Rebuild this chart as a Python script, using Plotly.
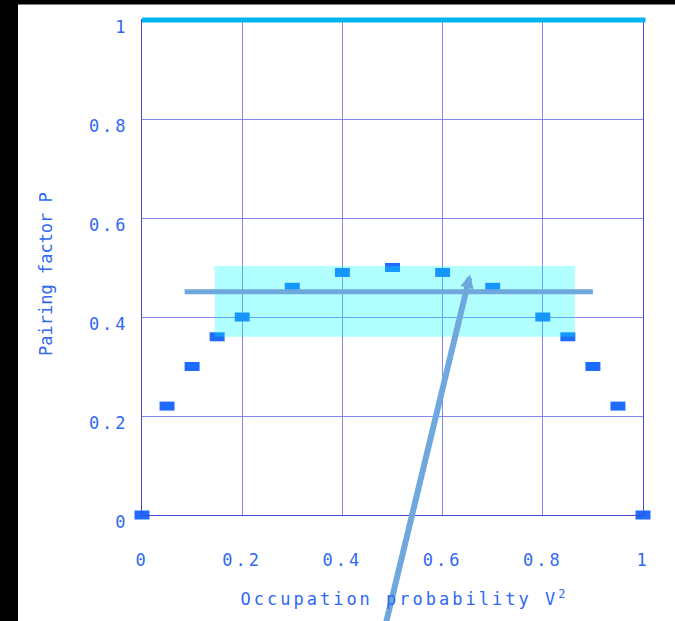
import plotly.graph_objects as go

# Occupation probability V^2 and the pairing factor P at each level
v2 = [0, 0.05, 0.1, 0.15, 0.2, 0.3, 0.4, 0.5, 0.6, 0.7, 0.8, 0.85, 0.9, 0.95, 1]
pairing = [0, 0.22, 0.30, 0.36, 0.40, 0.46, 0.49, 0.50, 0.49, 0.46, 0.40, 0.36, 0.30, 0.22, 0]

# Highlighted band and its mean level
band_x = [0.145, 0.864]
band_y = [0.36, 0.503]
mean_x = [0.085, 0.9]
mean_y = 0.451

# Upper limit line at P = 1 (axes span exactly 0..1, so paper units match data units)
limit_x = [0, 1.005]
limit_y = 1

# Pointer arrow: tail (below the axis) and head
arrow_tail = [0.477, -0.26]
arrow_head = [0.655, 0.486]

tick_vals = [0, 0.2, 0.4, 0.6, 0.8, 1]
tick_text = ["0", "0.2", "0.4", "0.6", "0.8", "1"]

x_title = "Occupation probability V<sup>2</sup>"
y_title = "Pairing factor P"

TEXT_BLUE = "#3068f2"
GRID = "#8585f0"
AXIS = "#4646d8"
FONT = "DejaVu Sans Mono"

fig = go.Figure()

# flat rectangular markers: a thick horizontal dash
fig.add_trace(go.Scatter(
    x=v2, y=pairing, mode="markers",
    marker=dict(symbol="line-ew", size=10.7, color="#1f6bff",
                line=dict(color="#1f6bff", width=9)),
    cliponaxis=False, showlegend=False, hoverinfo="skip",
))

shapes = [
    # white page behind the chart
    dict(type="rect", xref="paper", yref="paper", x0=-0.2475, x1=1.07,
         y0=-0.22, y1=1.0315, fillcolor="white", line_width=0, layer="below"),
    # translucent band
    dict(type="rect", xref="x", yref="y", x0=band_x[0], x1=band_x[1],
         y0=band_y[0], y1=band_y[1], fillcolor="rgba(0,255,255,0.3)",
         line_width=0, layer="above"),
    # mean level
    dict(type="line", xref="x", yref="y", x0=mean_x[0], x1=mean_x[1],
         y0=mean_y, y1=mean_y, line=dict(color="#6fa8dc", width=5), layer="above"),
    # limit at P = 1
    dict(type="line", xref="paper", yref="paper", x0=limit_x[0], x1=limit_x[1],
         y0=limit_y, y1=limit_y, line=dict(color="#00b6f2", width=5), layer="above"),
]

# annotation 0: pointer arrow
fig.add_annotation(
    x=arrow_head[0], y=arrow_head[1], ax=arrow_tail[0], ay=arrow_tail[1],
    xref="x", yref="y", axref="x", ayref="y", text="",
    showarrow=True, arrowhead=2, arrowsize=0.45, arrowwidth=6,
    arrowcolor="#6fa8dc",
)

# annotation 1: x-axis title, centred under the tick labels
fig.add_annotation(
    x=0.523, y=-0.168, xref="paper", yref="paper", xanchor="center", yanchor="middle",
    text=x_title, showarrow=False,
    font=dict(family=FONT, size=17, color=TEXT_BLUE),
)

# annotation 2: y-axis title, rotated, left of the tick labels
fig.add_annotation(
    x=-0.1916, y=0.487, xref="paper", yref="paper", xanchor="center", yanchor="middle",
    text=y_title, showarrow=False, textangle=-90,
    font=dict(family=FONT, size=17, color=TEXT_BLUE),
)

axis_common = dict(
    range=[0, 1], tickvals=tick_vals, ticktext=tick_text,
    showgrid=True, gridcolor=GRID, gridwidth=1,
    showline=True, linecolor=AXIS, linewidth=1, mirror=True,
    zeroline=False, ticks="", automargin=False,
    tickfont=dict(family=FONT, size=17, color=TEXT_BLUE),
)

fig.update_layout(
    width=675, height=621,
    margin=dict(l=142, r=32, t=20, b=106),
    paper_bgcolor="black", plot_bgcolor="white",
    shapes=shapes,
    xaxis=dict(**axis_common, ticklabelstandoff=30),
    yaxis=dict(**axis_common, ticklabelstandoff=9, ticklabelshift=7),
)

spacing_css = (
    "var s=document.createElement('style');"
    "s.textContent='.xtick text,.ytick text,.annotation-text{letter-spacing:3px}"
    " .annotation[data-index=\"2\"] .annotation-text{letter-spacing:0}';"
    "document.head.appendChild(s);"
)

fig.write_html("out.html", post_script=spacing_css)
